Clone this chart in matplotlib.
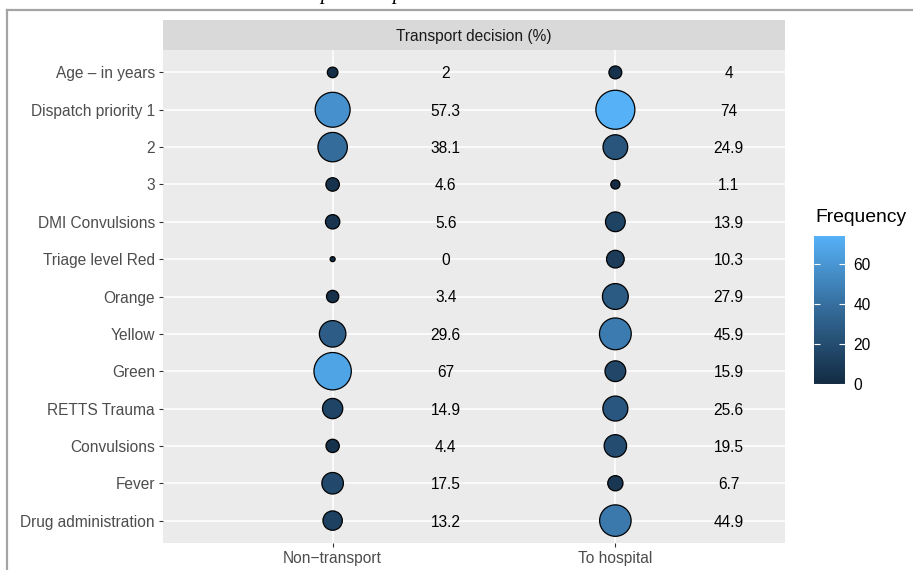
import numpy as np
import matplotlib
matplotlib.use("Agg")
import matplotlib.pyplot as plt
from matplotlib.colors import LinearSegmentedColormap, Normalize
from matplotlib.lines import Line2D

plt.rcParams['font.family'] = ['Liberation Sans', 'DejaVu Sans']

# rows of the table, top to bottom
rows = ["Age \u2013 in years", "Dispatch priority 1", "2", "3", "DMI Convulsions",
        "Triage level Red", "Orange", "Yellow", "Green", "RETTS Trauma",
        "Convulsions", "Fever", "Drug administration"]
groups = ["Non\u2212transport", "To hospital"]
non_transport = [2, 57.3, 38.1, 4.6, 5.6, 0, 3.4, 29.6, 67, 14.9, 4.4, 17.5, 13.2]
to_hospital = [4, 74, 24.9, 1.1, 13.9, 10.3, 27.9, 45.9, 15.9, 25.6, 19.5, 6.7, 44.9]
cbar_ticks = [0, 20, 40, 60]

W, H = 913, 570
FS = 11.2
fig = plt.figure(figsize=(W / 100, H / 100), dpi=100)


def box(x0, y0, x1, y1):
    # pixel box (top-left origin) -> figure fraction rect
    return [x0 / W, 1 - y1 / H, (x1 - x0) / W, (y1 - y0) / H]


# page frame lines and the clipped caption glyphs above the figure
fig.add_artist(Line2D([7 / W, 1], [1 - 10 / H, 1 - 10 / H], color="#a4a4a4", lw=1.6))
fig.add_artist(Line2D([7 / W, 7 / W], [1 - 10 / H, 0], color="#a4a4a4", lw=1.6))
for xp in (325, 397):
    fig.text(xp / W, 1 + 1 / H, "p", family="Liberation Serif", style="italic",
             fontsize=15, ha="center", va="baseline")

cmap = LinearSegmentedColormap.from_list("gg", ["#132B43", "#336A98", "#56B1F7"])
vals = np.array(non_transport + to_hospital, dtype=float)
norm = Normalize(vmin=vals.min(), vmax=vals.max())

ax = fig.add_axes(box(163, 50, 785, 543))
ax.set_facecolor("#EBEBEB")
for s in ax.spines.values():
    s.set_visible(False)

ny = len(rows)
yy = np.arange(ny)
for i in range(len(groups)):
    ax.axvline(i, color="white", lw=1.1, zorder=0)
for y in yy:
    ax.axhline(y, color="white", lw=1.1, zorder=0)


def sizes(v):
    d_px = 5 + 34 * np.sqrt(np.asarray(v, dtype=float) / vals.max())
    return (d_px * 0.72) ** 2


sc = None
for i, series in enumerate([non_transport, to_hospital]):
    sc = ax.scatter(np.full(ny, i), yy, s=sizes(series), c=series, cmap=cmap, norm=norm,
                    edgecolors="black", linewidths=0.9, zorder=3)
    for y, v in zip(yy, series):
        ax.text(i + 0.4, y, f"{v:g}", ha="center", va="center_baseline",
                fontsize=FS, color="black")

ax.set_xlim(-0.6, len(groups) - 1 + 0.6)
ax.set_ylim(ny - 1 + 0.6, -0.6)
ax.set_xticks(range(len(groups)))
ax.set_xticklabels(groups)
ax.set_yticks(yy)
ax.set_yticklabels(rows)
ax.tick_params(length=3.2, width=0.8, color="#333333", labelcolor="#4D4D4D",
               labelsize=FS, pad=2.5)

# facet strip
sax = fig.add_axes(box(163, 20, 785, 50))
sax.set_facecolor("#D9D9D9")
sax.set_xticks([])
sax.set_yticks([])
for s in sax.spines.values():
    s.set_visible(False)
sax.text(0.5, 0.5, "Transport decision (%)", ha="center", va="center_baseline",
         fontsize=FS, color="#1A1A1A", transform=sax.transAxes)

# colour bar legend
cax = fig.add_axes(box(814, 236, 845, 384))
cb = fig.colorbar(sc, cax=cax, ticks=cbar_ticks)
cb.outline.set_visible(False)
cax.yaxis.set_ticks_position("both")
cax.tick_params(direction="in", length=4.5, width=0.8, color="white",
                labelsize=FS, labelcolor="black", pad=6, left=True, right=True,
                labelleft=False, labelright=True)
fig.text(815 / W, 1 - 217 / H, "Frequency", fontsize=13.9, ha="left", va="center")

fig.savefig("out.png", dpi=100)
